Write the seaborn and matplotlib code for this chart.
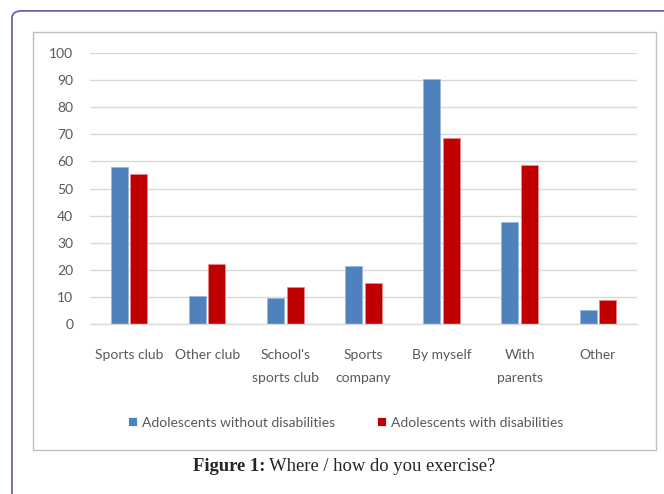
import pandas as pd
import matplotlib.pyplot as plt
from matplotlib.patches import Rectangle, FancyBboxPatch
import seaborn as sns

sns.set_theme(style="white")
plt.rcParams["font.family"] = ["Lato", "DejaVu Sans"]

places = ["Sports club", "Other club", "School's\nsports club", "Sports\ncompany",
          "By myself", "With\nparents", "Other"]
without_dis = [58, 10.5, 9.5, 21.5, 90.3, 37.7, 5.3]
with_dis = [55.3, 22.3, 13.8, 15.3, 68.5, 58.7, 8.7]
groups = ["Adolescents without disabilities", "Adolescents with disabilities"]

df = pd.DataFrame({"place": places * 2,
                   "value": without_dis + with_dis,
                   "group": [groups[0]] * len(places) + [groups[1]] * len(places)})

fig = plt.figure(figsize=(6.64, 4.94), dpi=100)

# outer rounded frame and inner chart box
fig.patches.append(FancyBboxPatch((0.018, -0.2), 1.2, 1.178, boxstyle="round,pad=0,rounding_size=0.015",
                                  transform=fig.transFigure, fill=False,
                                  edgecolor="#5a5aa6", linewidth=1.2))
fig.patches.append(Rectangle((0.0497, 0.089), 0.938, 0.846, transform=fig.transFigure,
                             fill=False, edgecolor="#bfbfbf", linewidth=1.0))

ax = fig.add_axes([0.1355, 0.3441, 0.8238, 0.5486])
sns.barplot(data=df, x="place", y="value", hue="group",
            palette=["#4F81BD", "#C00000"], saturation=1, width=0.5, gap=0.13,
            linewidth=0.6, ax=ax, legend=True)
for p, c in zip(ax.patches, ["#9bb7dc"] * 7 + ["#e88a8a"] * 7):
    p.set_edgecolor(c)

ax.set_ylim(0, 100)
ax.set_yticks(range(0, 101, 10))
ax.set_xlim(-0.5, 6.5)
ax.yaxis.grid(True, color="#d9d9d9", linewidth=1.0)
ax.set_axisbelow(True)
for s in ["top", "right", "left"]:
    ax.spines[s].set_visible(False)
ax.spines["bottom"].set_color("#d9d9d9")
ax.spines["bottom"].set_linewidth(1.0)
ax.tick_params(axis="y", colors="#595959", labelsize=10, length=0, pad=12)
ax.tick_params(axis="x", colors="#595959", labelsize=10, length=0, pad=18)
for lbl in ax.get_xticklabels():
    lbl.set_linespacing(2.1)
ax.set_xlabel("")
ax.set_ylabel("")

ax.legend(loc="center", bbox_to_anchor=(0.468, -0.364), ncol=2, frameon=False,
          fontsize=10, handlelength=0.6, handleheight=0.6, handletextpad=0.4,
          columnspacing=3.0, labelcolor="#595959")

# caption: bold label + regular text
cap = fig.text(0.29, 0.056, "Figure 1:", fontsize=13.4, fontweight="bold",
               family="Liberation Serif", ha="left", va="center")
ax.annotate("Where / how do you exercise?", xy=(1, 0.5), xycoords=cap,
            xytext=(3, 0), textcoords="offset points", fontsize=13.4,
            family="Liberation Serif", ha="left", va="center", annotation_clip=False)

fig.savefig("out.png", dpi=100)
